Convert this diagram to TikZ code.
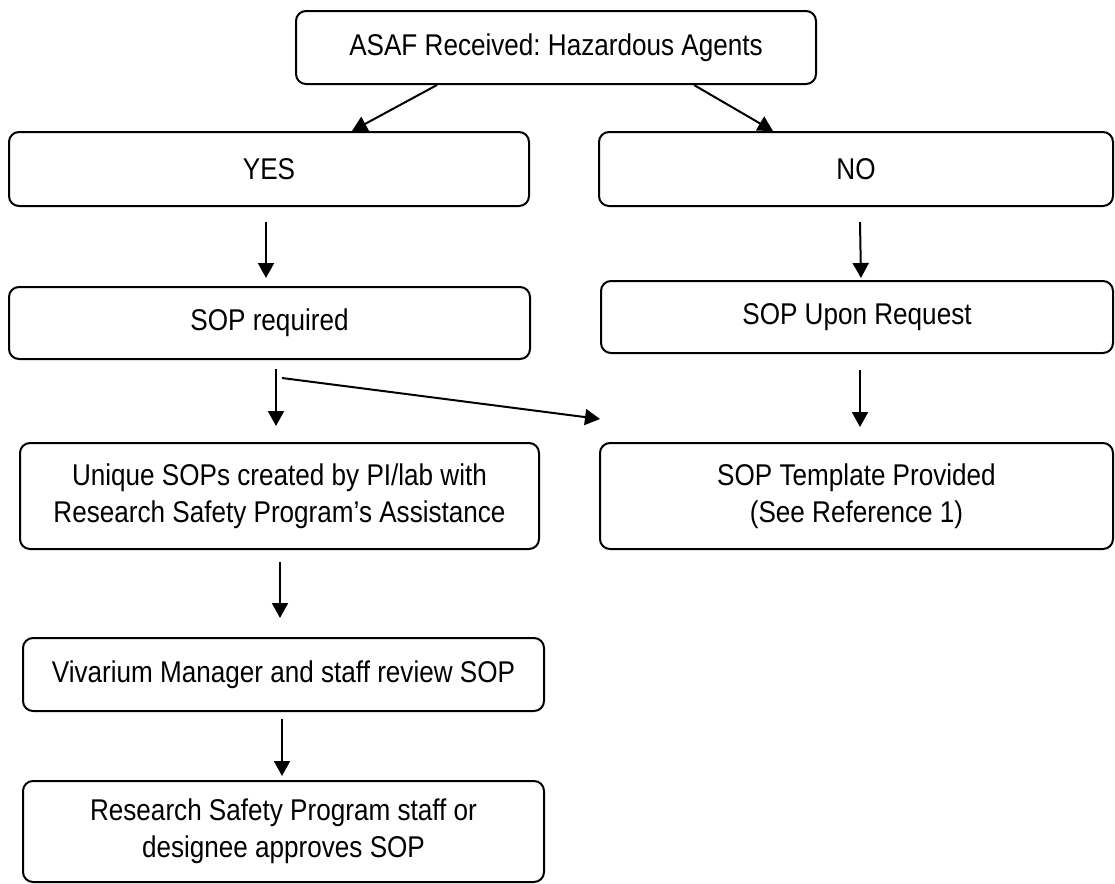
\documentclass[tikz,border=0pt]{standalone}
\usepackage{fontspec}
\setmainfont[FakeStretch=0.87]{Liberation Sans}
\usetikzlibrary{arrows.meta,calc}
\frenchspacing
\tikzset{
  box/.style={draw=black, line width=1pt, rounded corners=5pt, fill=white,
    inner sep=0pt, align=center, font=\fontsize{15pt}{18.5pt}\selectfont},
  arr/.style={line width=1pt, -{Triangle[length=7.5pt,width=8pt]}}
}
\begin{document}
\begin{tikzpicture}[x=0.5pt,y=-0.5pt]
\useasboundingbox (0,0) rectangle (1115,884);
\node[box, minimum width=260pt, minimum height=36.5pt] (top) at (556,47.5) {ASAF Received: Hazardous Agents};
\node[box, minimum width=260pt, minimum height=37pt] (yes) at (269,169) {YES};
\node[box, minimum width=257pt, minimum height=37pt] (no) at (856,169) {NO};
\node[box, minimum width=260.5pt, minimum height=36pt] (sopreq) at (269.5,323) {SOP required};
\node[box, minimum width=256pt, minimum height=36pt] (sopur) at (857,317) {SOP Upon Request};
\node[box, minimum width=259.5pt, minimum height=53pt] (unique) at (279.5,496) {Unique SOPs created by PI/lab with\\Research Safety Program’s Assistance};
\node[box, minimum width=256.5pt, minimum height=53pt] (templ) at (856.5,496) {SOP Template Provided\\(See Reference 1)};
\node[box, minimum width=260.5pt, minimum height=36.5pt] (viv) at (283.5,674.5) {Vivarium Manager and staff review SOP};
\node[box, minimum width=260.5pt, minimum height=50.5pt] (rsp) at (283.5,831.5) {Research Safety Program staff or\\designee approves SOP};

\draw[arr] ($(top.south)+(-119,0)$) -- ($(yes.north)+(83,0)$);
\draw[arr] ($(top.south)+(138,0)$) -- ($(no.north)+(-83,0)$);
\draw[arr] ($(yes.south)+(-3,15)$) -- ($(sopreq.north)+(-3.5,-8)$);
\draw[arr] ($(no.south)+(4,15)$) -- ($(sopur.north)+(4,-2)$);
\draw[arr] ($(sopreq.south)+(6.5,9)$) -- ($(unique.north)+(-3.5,-16)$);
\draw[arr] ($(sopreq.south)+(12.5,18)$) -- ($(templ.north west)+(1,-23)$);
\draw[arr] ($(sopur.south)+(3,16)$) -- ($(templ.north)+(3.5,-15)$);
\draw[arr] ($(unique.south)+(0.5,12)$) -- ($(viv.north)+(-3.5,-19)$);
\draw[arr] ($(viv.south)+(-1.5,7)$) -- ($(rsp.north)+(-1.5,-4)$);
\end{tikzpicture}
\end{document}
